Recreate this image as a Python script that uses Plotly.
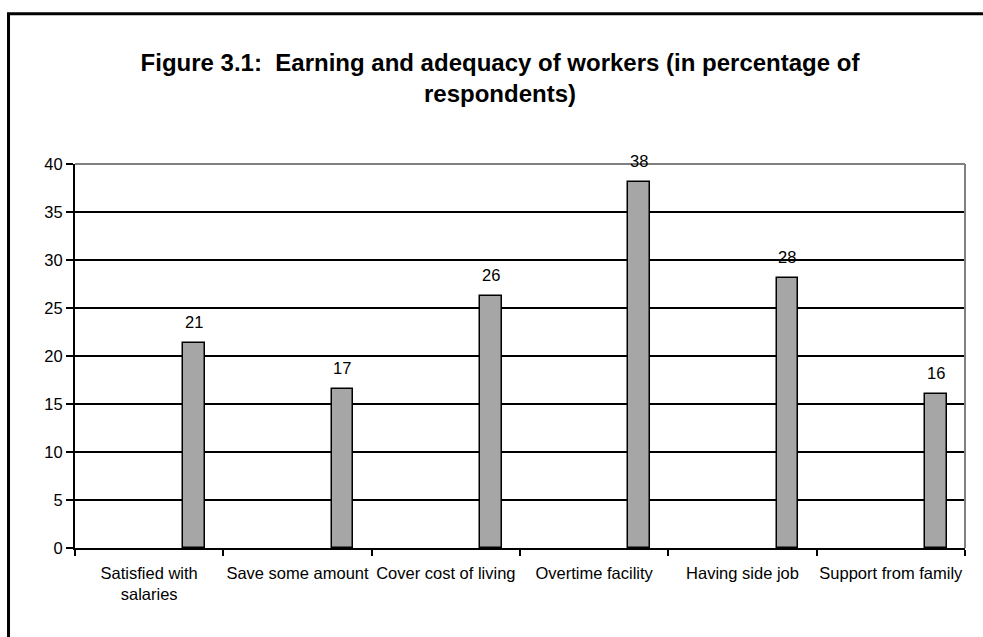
import plotly.graph_objects as go

# Survey categories and share of respondents (%)
categories = [
    "Satisfied with<br>salaries",
    "Save some amount",
    "Cover cost of living",
    "Overtime facility",
    "Having side job",
    "Support from family",
]
values = [21.4, 16.6, 26.2, 38.1, 28.1, 16.0]

title_text = "Figure 3.1:  Earning and adequacy of workers (in percentage of<br>respondents)"
y_ticks = [0, 5, 10, 15, 20, 25, 30, 35, 40]

FONT = "Liberation Sans, Arial, sans-serif"
BAR_WIDTH = 0.146    # fraction of a category slot
BAR_OFFSET = 0.230   # bar sits in the right part of each slot

fig = go.Figure()
fig.add_trace(go.Bar(
    x=categories,
    y=values,
    width=BAR_WIDTH,
    offset=BAR_OFFSET,
    marker=dict(color="#a6a6a6", line=dict(color="#000000", width=1.5)),
    hoverinfo="x+y",
    showlegend=False,
))

# value labels above each bar
for i, v in enumerate(values):
    fig.add_annotation(
        x=i + BAR_OFFSET + BAR_WIDTH / 2, y=v,
        xref="x", yref="y",
        text=f"{v:.0f}", showarrow=False,
        yanchor="middle", yshift=21,
        font=dict(family=FONT, size=16.5, color="#000000"),
    )

# chart frame (extends past the right and bottom of the page)
fig.add_shape(type="rect", xref="paper", yref="paper",
              x0=-0.0747, x1=1.05, y0=-0.3, y1=1.3914,
              line=dict(color="#000000", width=3), layer="below")
# grey plot-area border on top and right
fig.add_shape(type="line", xref="paper", yref="paper", x0=0, x1=1, y0=1, y1=1,
              line=dict(color="#808080", width=2), layer="above")
fig.add_shape(type="line", xref="paper", yref="paper", x0=1, x1=1, y0=0, y1=1,
              line=dict(color="#808080", width=2), layer="above")

fig.update_layout(
    width=983, height=637,
    margin=dict(l=75, r=18, t=164, b=89, autoexpand=False),
    paper_bgcolor="#ffffff",
    plot_bgcolor="#ffffff",
    font=dict(family=FONT, size=16.5, color="#000000"),
    title=dict(
        text=title_text,
        x=500 / 983, xref="container", xanchor="center",
        y=1 - 71 / 637, yref="container", yanchor="top",
        font=dict(family=FONT, size=24, color="#000000", weight="bold"),
    ),
    xaxis=dict(
        type="category",
        tickson="boundaries",
        tickangle=0,
        automargin=False,
        ticks="outside", ticklen=6, tickwidth=1.5, tickcolor="#000000",
        ticklabelstandoff=9,
        showline=True, linecolor="#000000", linewidth=2,
        showgrid=False,
        tickfont=dict(family=FONT, size=16.5, color="#000000"),
        fixedrange=True,
    ),
    yaxis=dict(
        range=[0, 40],
        tickvals=y_ticks,
        automargin=False,
        ticks="outside", ticklen=7, tickwidth=1.5, tickcolor="#000000",
        showline=True, linecolor="#000000", linewidth=2,
        showgrid=True, gridcolor="#000000", gridwidth=1.5,
        zeroline=False,
        tickfont=dict(family=FONT, size=16.5, color="#000000"),
        fixedrange=True,
    ),
    bargap=0,
)

fig.write_html("out.html")
